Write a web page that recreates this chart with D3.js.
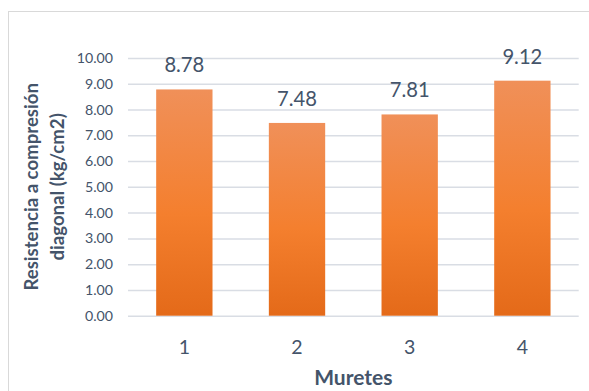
<!DOCTYPE html>
<html><head><meta charset="utf-8">
<script src="https://cdn.jsdelivr.net/npm/d3@7"></script>
<style>body{margin:0;background:#fff}svg{display:block}</style>
</head><body>
<script>
const categories = ["1","2","3","4"];
const values = [8.78, 7.48, 7.81, 9.12];
const yTicks = [0,1,2,3,4,5,6,7,8,9,10];
const xTitle = "Muretes";
const yTitle = ["Resistencia a compresión","diagonal (kg/cm2)"];

const W=589,H=391;
const m={left:128,right:10.3,top:58,bottom:75.3};
const svg=d3.select("body").append("svg").attr("width",W).attr("height",H);
const font="Lato, 'Open Sans', sans-serif";
const tc="#44546A";

const defs=svg.append("defs");
const g1=defs.append("linearGradient").attr("id","bg").attr("x1",0).attr("y1",0).attr("x2",0).attr("y2",1);
g1.append("stop").attr("offset","0%").attr("stop-color","#F09059");
g1.append("stop").attr("offset","55%").attr("stop-color","#F47F2E");
g1.append("stop").attr("offset","100%").attr("stop-color","#E46A19");

svg.append("rect").attr("x",8.5).attr("y",11.5).attr("width",W).attr("height",H).attr("fill","none").attr("stroke","#D9D9D9").attr("stroke-width",1);

const x=d3.scaleBand().domain(categories).range([m.left,W-m.right]).paddingInner(0.5).paddingOuter(0.25);
const y=d3.scaleLinear().domain([0,10]).range([H-m.bottom,m.top]);

const grid=svg.append("g").attr("transform",`translate(${m.left},0)`)
  .call(d3.axisLeft(y).tickValues(yTicks).tickSize(-(W-m.left-m.right)).tickFormat(""));
grid.select(".domain").remove();
grid.selectAll("line").attr("stroke","#D9DDE4").attr("stroke-width",1.5);

const ya=svg.append("g").attr("transform",`translate(${m.left},0)`)
  .call(d3.axisLeft(y).tickValues(yTicks).tickSize(0).tickPadding(15).tickFormat(d3.format(".2f")));
ya.select(".domain").remove();
ya.selectAll("text").attr("font-family",font).attr("font-size",14.2).attr("fill",tc);

svg.append("g").selectAll("rect").data(values).join("rect")
  .attr("x",(d,i)=>x(categories[i])).attr("width",x.bandwidth())
  .attr("y",d=>y(d)).attr("height",d=>y(0)-y(d)).attr("fill","url(#bg)");

svg.append("g").selectAll("text").data(values).join("text")
  .attr("x",(d,i)=>x(categories[i])+x.bandwidth()/2).attr("y",d=>y(d)-17)
  .attr("text-anchor","middle").attr("font-family",font).attr("font-size",20.2).attr("fill",tc)
  .text(d=>d.toFixed(2));

const xa=svg.append("g").attr("transform",`translate(0,${H-m.bottom})`)
  .call(d3.axisBottom(x).tickSize(0).tickPadding(24.5));
xa.select(".domain").remove();
xa.selectAll("text").attr("font-family",font).attr("font-size",19.5).attr("fill",tc);

svg.append("text").attr("x",(m.left+W-m.right)/2).attr("y",385).attr("text-anchor","middle")
  .attr("font-family",font).attr("font-size",21).attr("font-weight","bold").attr("fill",tc).text(xTitle);

const cy=(m.top+H-m.bottom)/2;
svg.append("text").attr("transform",`translate(38,${cy}) rotate(-90)`).attr("text-anchor","middle")
  .attr("font-family",font).attr("font-size",18.6).attr("font-weight","bold").attr("fill",tc).text(yTitle[0]);
svg.append("text").attr("transform",`translate(64,${cy}) rotate(-90)`).attr("text-anchor","middle")
  .attr("font-family",font).attr("font-size",18.6).attr("font-weight","bold").attr("fill",tc).text(yTitle[1]);
</script>
</body></html>
